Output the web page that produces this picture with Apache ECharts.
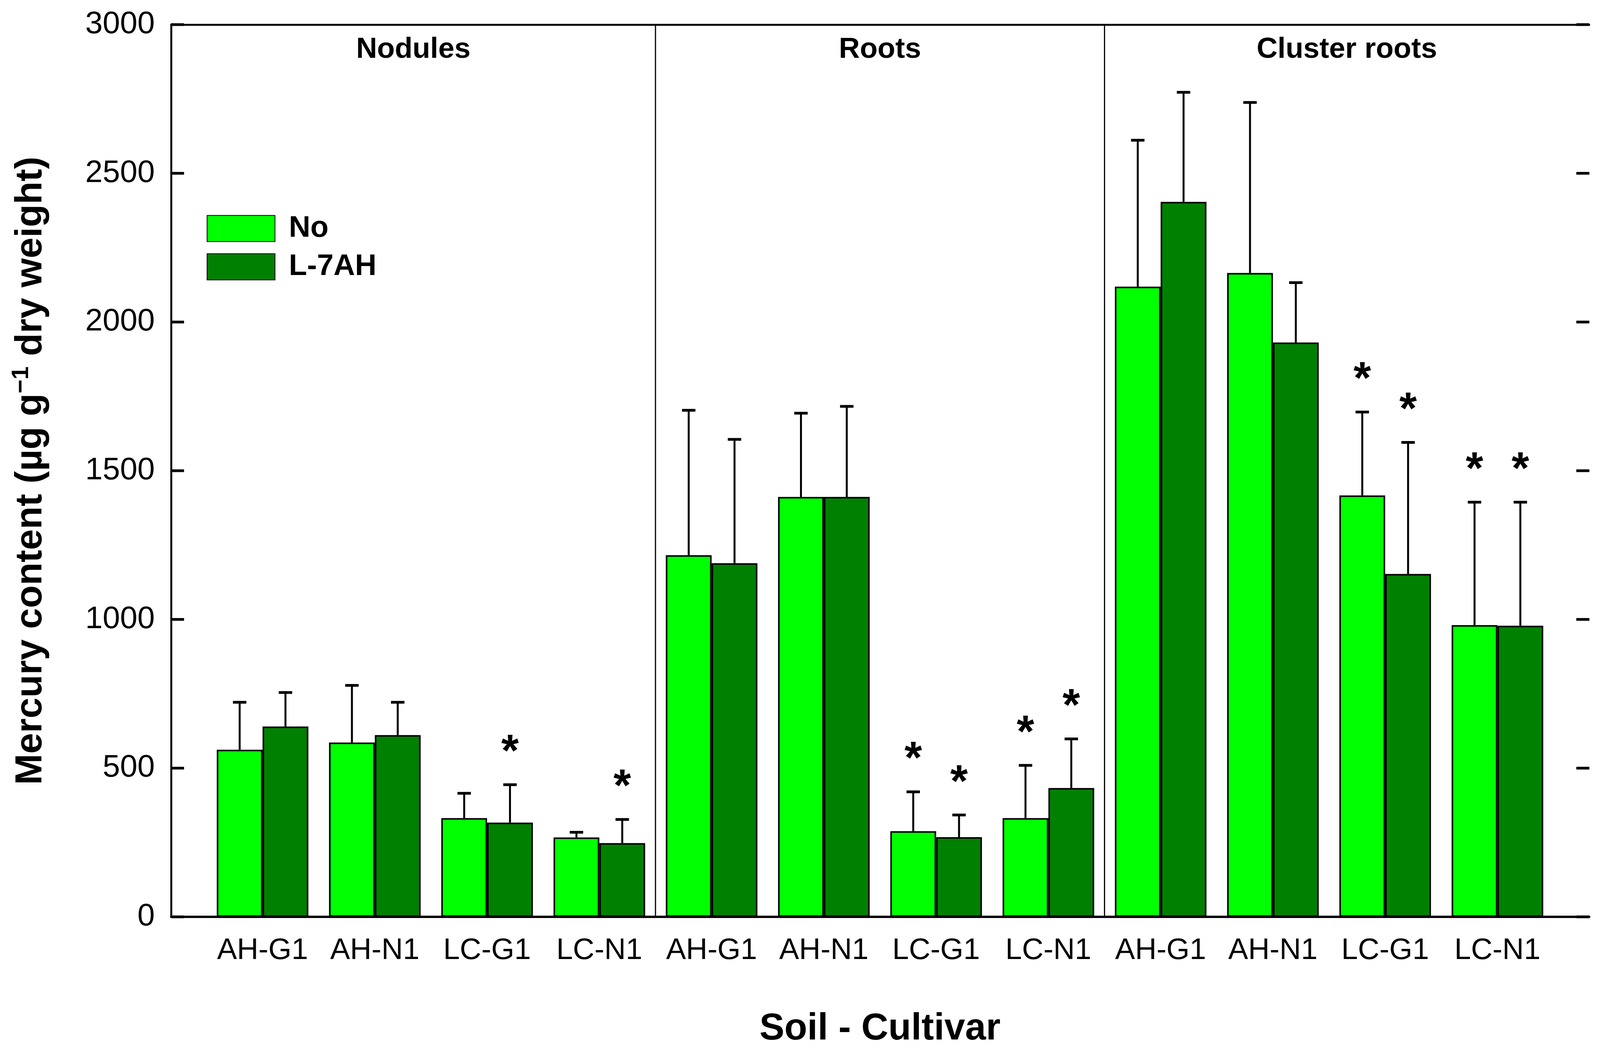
<!DOCTYPE html>
<html><head><meta charset="utf-8">
<script src="https://cdn.jsdelivr.net/npm/echarts@6/dist/echarts.min.js"></script>
<style>html,body{margin:0;padding:0;background:#fff;overflow:hidden}#c{position:absolute;left:0;top:0}</style>
</head><body><div id="c"></div>
<script>
// ---- data ----
const categories = ['AH-G1','AH-N1','LC-G1','LC-N1','AH-G1','AH-N1','LC-G1','LC-N1','AH-G1','AH-N1','LC-G1','LC-N1'];
const panels = ['Nodules','Roots','Cluster roots'];
const seriesNames = ['No','L-7AH'];
const noMean = [562, 586, 332, 267, 1216, 1412, 288, 332, 2119, 2165, 1417, 981];
const noSD   = [160, 193,  84,  18,  488,  282, 133, 178,  493,  574,  281, 414];
const lMean  = [640, 611, 317, 248, 1189, 1412, 268, 433, 2404, 1931, 1153, 979];
const lSD    = [115, 111, 128,  80,  417,  305,  75, 166,  369,  202,  443, 416];
const noSig  = [0,0,0,0, 0,0,1,1, 0,0,1,1];
const lSig   = [0,0,1,1, 0,0,1,1, 0,0,1,1];
const yTicks = [0, 500, 1000, 1500, 2000, 2500, 3000];
const yMin = 0, yMax = 3000, yInterval = 500;
const dividerAfter = [3, 7];

// ---- layout (designed for 4290x2693, scaled to the real viewport) ----
const W = window.innerWidth, H = window.innerHeight;
const sx = W / 4290, sy = H / 2693;
const sf = Math.sqrt(sx * sy);
const X = v => v * sx, Y = v => v * sy, F = v => v * sf;
const el = document.getElementById('c');
el.style.width = W + 'px'; el.style.height = H + 'px';

const FONT = 'Liberation Sans, Arial, sans-serif';
const colors = ['#00ff00', '#008000'];
const BW = 0.408;
const TICK = X(34);

const errData = [];
for (let i = 0; i < categories.length; i++) {
  errData.push([i, 0, noMean[i], noSD[i], noSig[i]]);
  errData.push([i, 1, lMean[i], lSD[i], lSig[i]]);
}

const chart = echarts.init(el);
const option = {
  backgroundColor: '#fff',
  animation: false,
  grid: [
    {left: X(459), right: X(29), top: Y(63), bottom: Y(346)},
    {left: X(553.5), right: X(124.5), top: Y(63), bottom: Y(346)}
  ],
  legend: {
    data: seriesNames, orient: 'vertical', left: X(549), top: Y(542),
    itemWidth: X(182), itemHeight: Y(67), itemGap: Y(22),
    textStyle: {fontFamily: FONT, fontSize: F(78), fontWeight: 'bold', color: '#000', lineHeight: Y(67), padding: [0, 0, 0, X(32)]},
    icon: 'rect'
  },
  xAxis: [
    {gridIndex: 0, type: 'value', min: 0, max: 1, position: 'bottom',
     axisLine: {show: true, onZero: false, lineStyle: {color: '#000', width: 6}},
     axisTick: {show: false}, axisLabel: {show: false}, splitLine: {show: false}},
    {gridIndex: 0, type: 'value', min: 0, max: 1, position: 'top',
     axisLine: {show: true, onZero: false, lineStyle: {color: '#000', width: 5}},
     axisTick: {show: false}, axisLabel: {show: false}, splitLine: {show: false}},
    {gridIndex: 1, type: 'category', data: categories,
     axisLine: {show: false}, axisTick: {show: false},
     axisLabel: {fontFamily: FONT, fontSize: F(78), color: '#000', margin: Y(49), interval: 0},
     name: 'Soil - Cultivar', nameLocation: 'middle', nameGap: Y(240),
     nameTextStyle: {fontFamily: FONT, fontSize: F(98), fontWeight: 'bold', color: '#000'}}
  ],
  yAxis: [
    {gridIndex: 0, type: 'value', min: yMin, max: yMax, interval: yInterval, position: 'left',
     axisLine: {show: true, lineStyle: {color: '#000', width: 5}},
     axisTick: {show: false},
     axisLabel: {fontFamily: FONT, fontSize: Y(80), color: '#000', margin: X(44), formatter: v => String(v)},
     splitLine: {show: false},
     name: '{t|Mercury content (µg g}{s|−1}{t| dry weight)}', nameLocation: 'middle', nameGap: X(318),
     nameTextStyle: {rich: {
       t: {fontFamily: FONT, fontSize: F(98), fontWeight: 'bold', color: '#000', lineHeight: F(112)},
       s: {fontFamily: FONT, fontSize: F(62), fontWeight: 'bold', color: '#000', verticalAlign: 'top', lineHeight: F(112)}
     }}},
    {gridIndex: 0, type: 'value', min: yMin, max: yMax, interval: yInterval, position: 'right',
     axisLine: {show: true, lineStyle: {color: '#000', width: 5}},
     axisTick: {show: false}, axisLabel: {show: false}, splitLine: {show: false}},
    {gridIndex: 1, type: 'value', min: yMin, max: yMax, interval: yInterval, show: false}
  ],
  series: [
    {name: seriesNames[0], type: 'bar', xAxisIndex: 2, yAxisIndex: 2, data: noMean,
     barWidth: (BW * 100) + '%', barGap: '0%',
     itemStyle: {color: colors[0], borderColor: '#000', borderWidth: 4}},
    {name: seriesNames[1], type: 'bar', xAxisIndex: 2, yAxisIndex: 2, data: lMean,
     barWidth: (BW * 100) + '%', barGap: '0%',
     itemStyle: {color: colors[1], borderColor: '#000', borderWidth: 4}},
    {type: 'custom', xAxisIndex: 2, yAxisIndex: 2, data: errData, z: 5,
     encode: {x: 0, y: 2},
     renderItem: function (params, api) {
       const cat = api.value(0), s = api.value(1), m = api.value(2), sd = api.value(3), sig = api.value(4);
       const band = api.size([1, 0])[0];
       const b = api.coord([cat, m]);
       const t = api.coord([cat, m + sd]);
       const x = b[0] + (s === 0 ? -1 : 1) * band * BW / 2;
       const ch = [
         {type: 'line', shape: {x1: x, y1: b[1], x2: x, y2: t[1]}, style: {stroke: '#000', lineWidth: 5}},
         {type: 'rect', shape: {x: x - X(18), y: t[1] - 3, width: X(36), height: 7}, style: {fill: '#000'}}
       ];
       if (sig) {
         ch.push({type: 'text', style: {text: '*', x: x, y: t[1] - Y(80), align: 'center', verticalAlign: 'middle',
           fontSize: F(118), fontWeight: 'bold', fontFamily: FONT, fill: '#000'}});
       }
       return {type: 'group', children: ch};
     }},
    {type: 'custom', xAxisIndex: 2, yAxisIndex: 2, data: dividerAfter.map(d => [d]), z: 6,
     encode: {x: 0},
     renderItem: function (params, api) {
       const i = api.value(0);
       const band = api.size([1, 0])[0];
       const top = api.coord([i, yMax]);
       const bot = api.coord([i, yMin]);
       const x = top[0] + band / 2;
       return {type: 'line', shape: {x1: x, y1: top[1], x2: x, y2: bot[1]}, style: {stroke: '#000', lineWidth: 3}};
     }}
  ]
};
chart.setOption(option);

// frame edges, panel titles and inward tick marks placed through the axes' own scales
const fl = Number(chart.convertToPixel({xAxisIndex: 0}, 0));
const fr = Number(chart.convertToPixel({xAxisIndex: 0}, 1));
const left = Math.min(fl, fr), right = Math.max(fl, fr);
const divX = dividerAfter.map(i => (chart.convertToPixel({xAxisIndex: 2}, i) + chart.convertToPixel({xAxisIndex: 2}, i + 1)) / 2);
const edges = [left].concat(divX, [right]);
const ty = chart.convertToPixel({yAxisIndex: 0}, yMax) + Y(65);
const gfx = panels.map((p, k) => ({
  type: 'text', x: (edges[k] + edges[k + 1]) / 2, y: ty, z: 100,
  style: {text: p, align: 'center', verticalAlign: 'middle', fontFamily: FONT, fontSize: F(76), fontWeight: 'bold', fill: '#000'}
}));
yTicks.forEach(v => {
  const y = chart.convertToPixel({yAxisIndex: 0}, v);
  // left side: drawn as a polygon on a top layer so nothing can hide it
  gfx.push({type: 'polygon', zlevel: 3, z: 200,
    shape: {points: [[left, y - 3], [left + TICK, y - 3], [left + TICK, y + 3], [left, y + 3]]},
    style: {fill: '#000', stroke: '#000', lineWidth: 1}});
  gfx.push({type: 'polygon', zlevel: 3, z: 200,
    shape: {points: [[right - TICK, y - 3], [right, y - 3], [right, y + 3], [right - TICK, y + 3]]},
    style: {fill: '#000', stroke: '#000', lineWidth: 1}});
});
chart.setOption({graphic: gfx});
</script></body></html>
